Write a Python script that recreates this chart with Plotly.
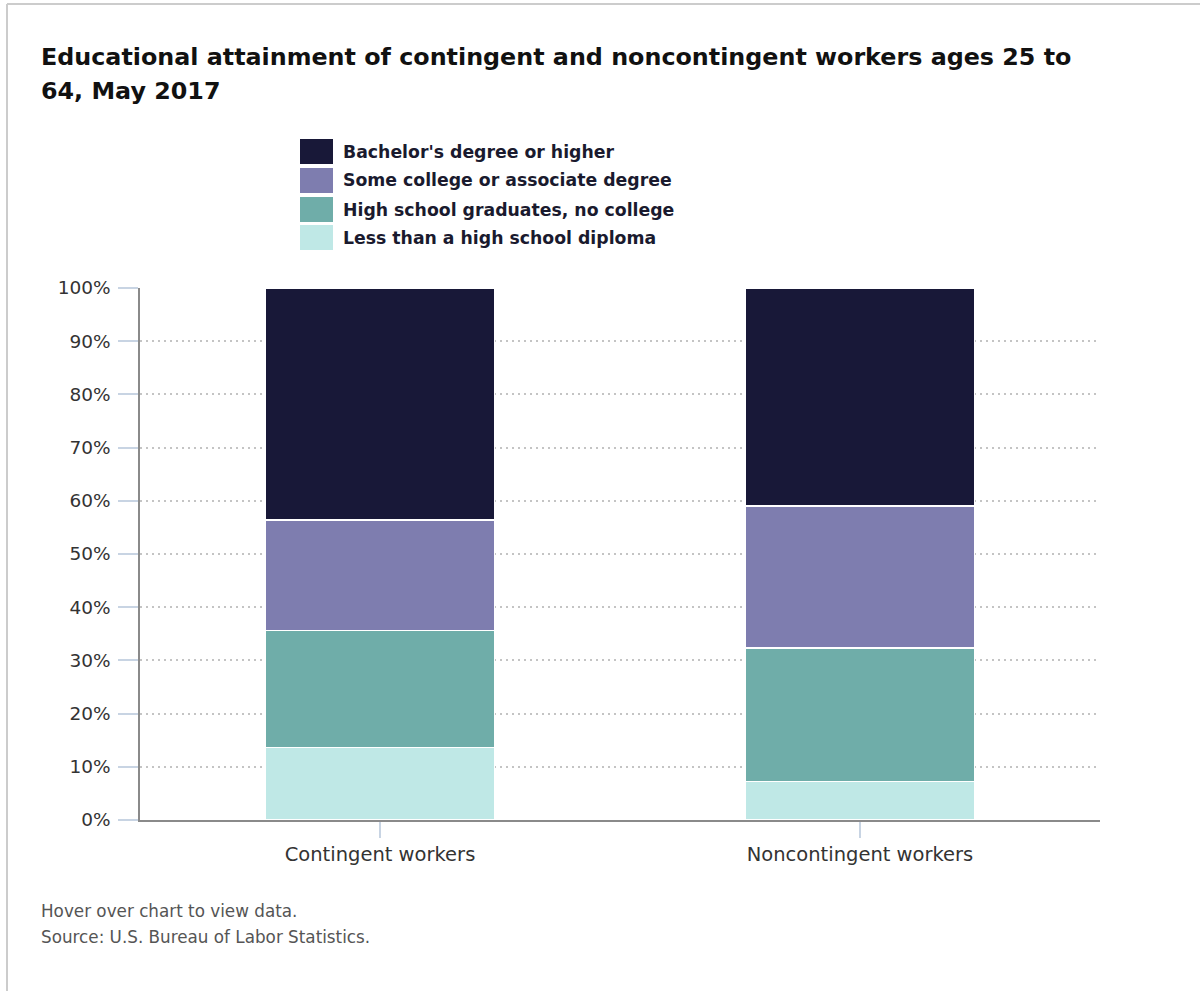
import plotly.graph_objects as go

# Educational attainment shares (percent of workers ages 25 to 64)
categories = ["Contingent workers", "Noncontingent workers"]
less_than_hs = [13.6, 7.2]
hs_grad = [22.0, 25.1]
some_college = [20.8, 26.7]
bachelors = [43.6, 41.0]

series_names = [
    "Less than a high school diploma",
    "High school graduates, no college",
    "Some college or associate degree",
    "Bachelor's degree or higher",
]
series_values = [less_than_hs, hs_grad, some_college, bachelors]
series_colors = ["#bfe8e6", "#6fada9", "#7e7daf", "#181838"]

y_ticks = list(range(0, 101, 10))
y_tick_labels = [f"{t}%" for t in y_ticks]

# plot area in pixels
L, R, T, B = 140, 100, 288, 171
W, H = 1200, 991
PW, PH = W - L - R, H - T - B


def px_x(px):
    return (px - L) / PW


def px_y(py):
    return (H - B - py) / PH


fig = go.Figure()
for name, vals, col in zip(series_names, series_values, series_colors):
    fig.add_trace(go.Bar(
        x=categories, y=vals, name=name,
        marker=dict(color=col, line=dict(color="white", width=1.5)),
        width=0.477, showlegend=False,
        hovertemplate="%{x}<br>" + name + ": %{y:.1f}%<extra></extra>",
    ))

shapes = []
annotations = []

# legend (top to bottom: bachelor's first)
legend_top = [139, 168, 197, 225]
for i, (name, col) in enumerate(zip(series_names[::-1], series_colors[::-1])):
    y0 = legend_top[i]
    shapes.append(dict(
        type="rect", xref="paper", yref="paper",
        x0=px_x(300), x1=px_x(333), y0=px_y(y0 + 25), y1=px_y(y0),
        fillcolor=col, line=dict(width=0),
    ))
    annotations.append(dict(
        xref="paper", yref="paper", x=px_x(341), y=px_y(y0 + 12.5),
        xanchor="left", yanchor="middle", showarrow=False, text=name,
        font=dict(family="DejaVu Sans", size=17.3, color="#1a1a2e", weight="bold"),
    ))

# title
for txt, cy in [("Educational attainment of contingent and noncontingent workers ages 25 to", 57),
                ("64, May 2017", 91)]:
    annotations.append(dict(
        xref="paper", yref="paper", x=px_x(39), y=px_y(cy),
        xanchor="left", yanchor="middle", showarrow=False, text=txt,
        font=dict(family="DejaVu Sans", size=23.8, color="#111111", weight="bold"),
    ))

# footer
for txt, cy in [("Hover over chart to view data.", 911), ("Source: U.S. Bureau of Labor Statistics.", 937)]:
    annotations.append(dict(
        xref="paper", yref="paper", x=px_x(39), y=px_y(cy),
        xanchor="left", yanchor="middle", showarrow=False, text=txt,
        font=dict(family="DejaVu Sans", size=16.8, color="#555555"),
    ))

# frame lines along top and left edges
shapes.append(dict(type="line", xref="paper", yref="paper",
                   x0=px_x(7), x1=px_x(1200), y0=px_y(4), y1=px_y(4),
                   line=dict(color="#cccccc", width=2)))
shapes.append(dict(type="line", xref="paper", yref="paper",
                   x0=px_x(7), x1=px_x(7), y0=px_y(4), y1=px_y(991),
                   line=dict(color="#cccccc", width=2)))

fig.update_layout(
    barmode="stack",
    width=W, height=H,
    margin=dict(l=L, r=R, t=T, b=B, pad=0),
    paper_bgcolor="white", plot_bgcolor="white",
    shapes=shapes, annotations=annotations,
    showlegend=False,
    xaxis=dict(
        range=[-0.5, 1.5], showline=True, linecolor="#8a8a8a", linewidth=2,
        ticks="outside", ticklen=16, tickcolor="#c8d4e3", tickwidth=2,
        tickfont=dict(family="DejaVu Sans", size=19.5, color="#333333"),
        showgrid=False, zeroline=False,
    ),
    yaxis=dict(
        range=[0, 100], tickvals=y_ticks, ticktext=y_tick_labels,
        showline=True, linecolor="#8a8a8a", linewidth=1.5,
        ticks="outside", ticklen=20, tickcolor="#c8d4e3", tickwidth=2,
        tickfont=dict(family="DejaVu Sans", size=18.5, color="#333333"),
        showgrid=True, gridcolor="#c4c4c4", griddash="2px,4px", gridwidth=1.5,
        zeroline=False, ticklabelstandoff=4,
    ),
)

fig.write_html("out.html")
